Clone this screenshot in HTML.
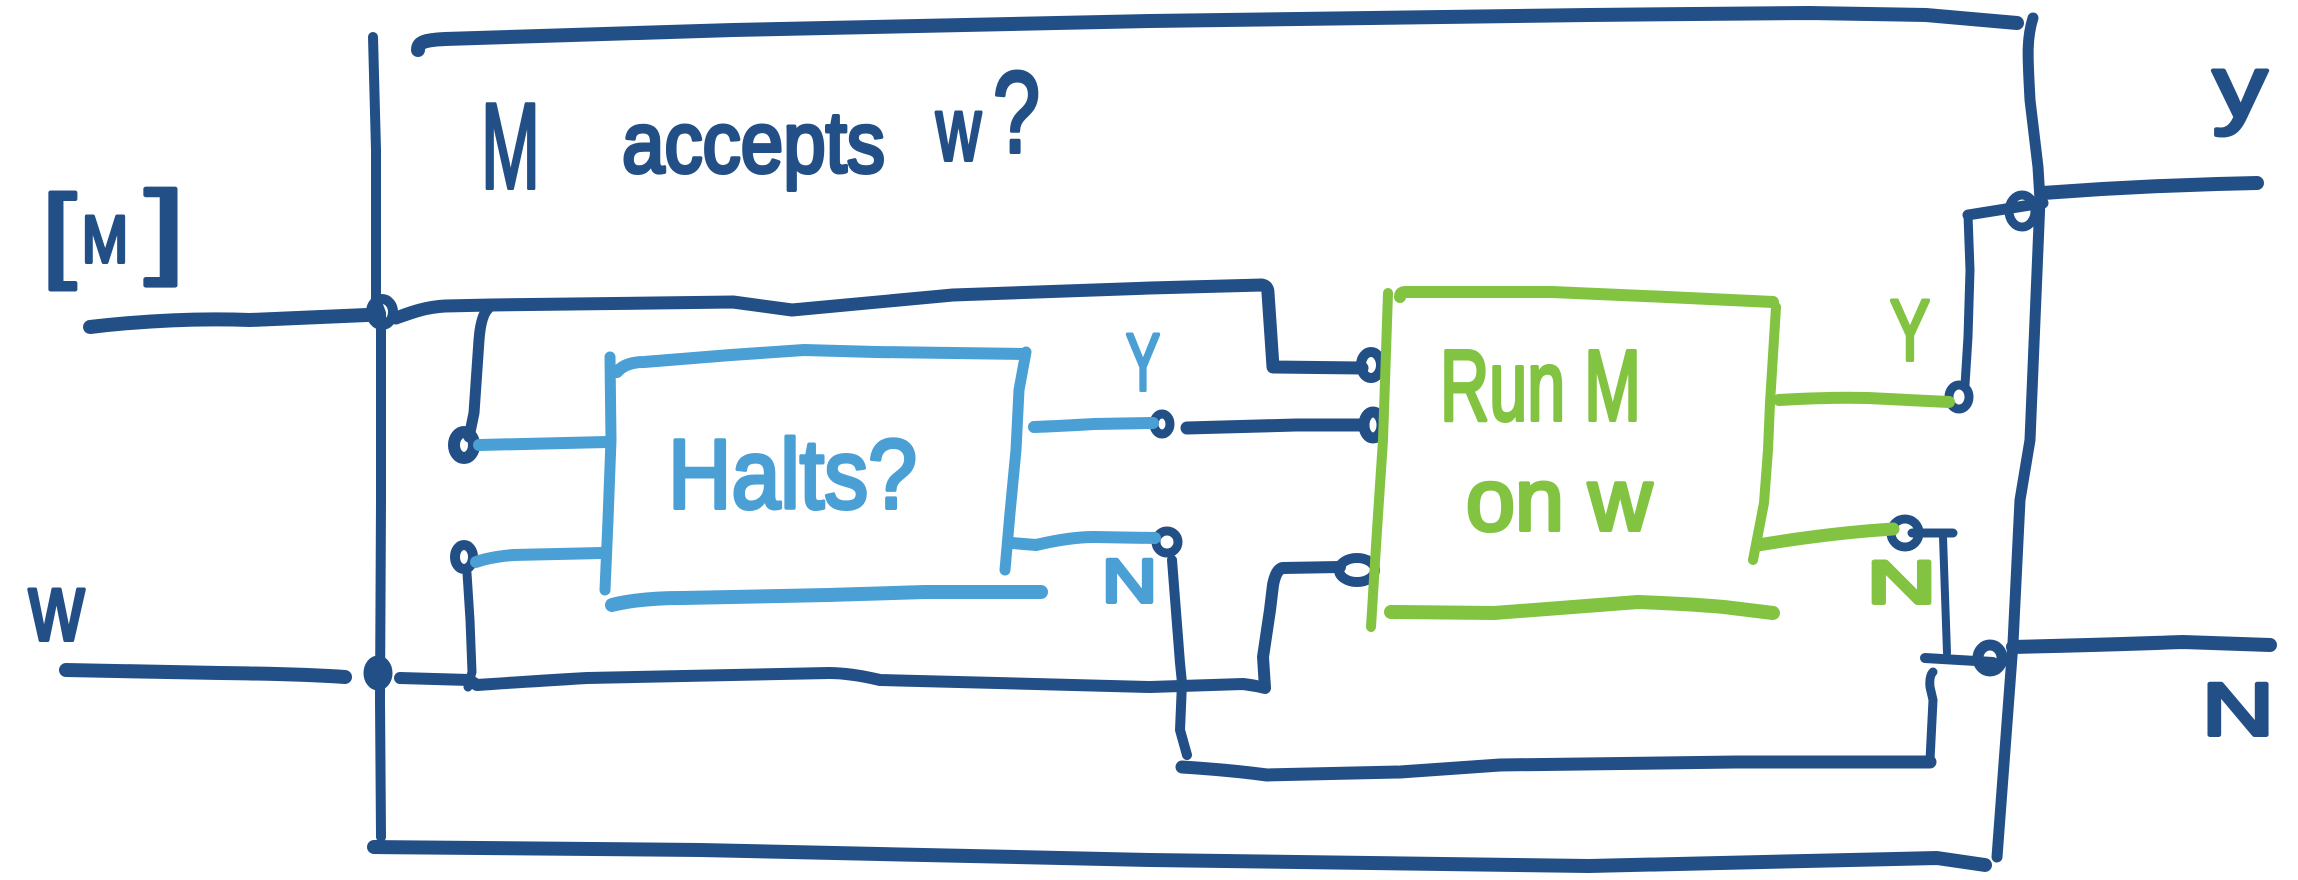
<!DOCTYPE html>
<html>
<head>
<meta charset="utf-8">
<style>
html,body{margin:0;padding:0;background:#fff;}
svg{display:block;}
text{font-family:"Liberation Sans","DejaVu Sans",sans-serif;}
</style>
</head>
<body>
<svg width="2298" height="880" viewBox="0 0 2298 880" xmlns="http://www.w3.org/2000/svg">
<rect width="2298" height="880" fill="#ffffff"/>
<g fill="none" stroke-linecap="round" stroke-linejoin="round">
  <!-- Outer box (dark blue) -->
  <g stroke="#234f87">
    <path d="M418,50 C418,42 425,40 445,39 L733,30 L1150,21 L1589,15 L1809,13 L1926,15 L2017,23" stroke-width="14"/>
    <path d="M2033,18 C2026,40 2028,60 2030,100 L2038,167 L2040,200 L2030,440 L2020,500 L2013,643 L1997,857" stroke-width="11"/>
    <path d="M374,847 L700,850 L1150,860 L1589,866 L1937,858 L1985,865" stroke-width="14"/>
    <path d="M373,37 L376,150 L376,300 L381,313 L381,500 L380,700 L381,837" stroke-width="10"/>

    <!-- [M] input -->
    <path d="M90,327 C150,320 200,318 250,320 L367,315" stroke-width="14"/>
    <ellipse cx="382" cy="312" rx="11" ry="13" stroke-width="10"/>
    <path d="M396,318 C410,313 425,307 445,306 L491,305 L733,302 L792,310 L953,295 L1150,288 L1262,285 Q1268,286 1268,293 L1271,337 L1273,367 L1362,368" stroke-width="13"/>
    <ellipse cx="1371" cy="365" rx="10" ry="13" stroke-width="10"/>

    <!-- branch to Halts upper input -->
    <path d="M491,306 Q481,312 479,340 L474,413 L469,437" stroke-width="11"/>
    <ellipse cx="464" cy="445" rx="10" ry="13" stroke-width="12"/>

    <!-- Halts lower input circle and vertical -->
    <ellipse cx="464" cy="557" rx="9" ry="12" stroke-width="10"/>
    <path d="M467,573 L470,620 L472,672 L468,687" stroke-width="9"/>

    <!-- w input -->
    <path d="M66,670 L220,673 Q300,674 345,677" stroke-width="14"/>
    <ellipse cx="378" cy="673" rx="12" ry="15" fill="#234f87" stroke-width="5"/>
    <path d="M400,678 L469,680 L477,685 Q520,682 587,678 L829,673 Q850,673 880,680 L1150,687 L1243,684 Q1258,686 1265,688 L1263,657 L1270,610 L1273,585 Q1276,569 1283,568 L1340,567" stroke-width="12"/>
    <ellipse cx="1357" cy="570" rx="18" ry="12" stroke-width="10"/>

    <!-- Halts outputs circles -->
    <ellipse cx="1162" cy="424" rx="8" ry="10" stroke-width="9"/>
    <ellipse cx="1167" cy="542" rx="11" ry="11" stroke-width="9"/>
    <path d="M1187,428 L1296,425 L1363,425" stroke-width="13"/>
    <ellipse cx="1373" cy="425" rx="9" ry="13" stroke-width="11"/>

    <!-- Halts N vertical and return line -->
    <path d="M1172,560 L1180,663 L1182,683 L1180,730 L1187,755" stroke-width="10"/>
    <path d="M1182,767 Q1230,770 1267,775 L1400,772 L1500,765 L1736,762 L1930,762" stroke-width="13"/>
    <path d="M1930,760 L1933,700 L1930,687 Q1929,676 1933,672" stroke-width="9"/>

    <!-- Run M Y output connection -->
    <ellipse cx="1959" cy="397" rx="10" ry="12" stroke-width="9"/>
    <path d="M1965,385 L1968,337 L1970,270 L1968,215" stroke-width="9"/>
    <path d="M1968,215 L2043,203" stroke-width="11"/>
    <ellipse cx="2022" cy="211" rx="13" ry="16" stroke-width="9"/>
    <path d="M2043,193 Q2150,185 2257,183" stroke-width="14"/>

    <!-- Run M N output connection -->
    <ellipse cx="1905" cy="533" rx="14" ry="14" stroke-width="9"/>
    <path d="M1912,533 L1953,533" stroke-width="9"/>
    <path d="M1943,537 L1947,653" stroke-width="8"/>
    <path d="M1925,658 L1993,662" stroke-width="10"/>
    <ellipse cx="1990" cy="658" rx="12" ry="13" stroke-width="11"/>
    <path d="M2013,647 Q2100,645 2183,642 L2270,645" stroke-width="14"/>
  </g>

  <!-- Halts box (light blue) -->
  <g stroke="#4a9fd4">
    <path d="M479,445 L607,442" stroke-width="12"/>
    <path d="M476,562 Q490,557 513,555 L602,553" stroke-width="12"/>
    <path d="M610,357 L611,440 L608,520 L605,590" stroke-width="11"/>
    <path d="M617,372 Q625,362 644,362 L731,355 L804,350 L876,352 L1024,354" stroke-width="12"/>
    <path d="M1026,352 L1019,390 L1016,450 L1010,513 L1005,570" stroke-width="11"/>
    <path d="M612,605 Q640,598 682,598 L828,595 L925,592 L1041,592" stroke-width="14"/>
    <path d="M1034,427 Q1060,426 1094,424 L1153,423" stroke-width="12"/>
    <path d="M1012,543 L1036,545 Q1070,537 1094,537 L1155,538" stroke-width="12"/>
  </g>

  <!-- Run M box (green) -->
  <g stroke="#82c341">
    <path d="M1388,293 L1383,440 L1377,530 L1371,627" stroke-width="10"/>
    <path d="M1400,297 Q1400,292 1405,292 L1552,292 L1667,297 L1773,302" stroke-width="12"/>
    <path d="M1776,307 L1770,403 L1768,450 L1764,503 L1753,560" stroke-width="10"/>
    <path d="M1391,612 L1494,613 Q1560,608 1638,602 Q1690,604 1724,607 L1773,613" stroke-width="14"/>
    <path d="M1779,400 Q1830,397 1868,398 L1949,402" stroke-width="12"/>
    <path d="M1758,545 Q1830,533 1893,529" stroke-width="13"/>
  </g>
</g>

<!-- Labels -->
<g fill="#234f87" stroke="#234f87" stroke-width="4" stroke-linejoin="round">
  <text x="481" y="188" font-size="122" textLength="59" lengthAdjust="spacingAndGlyphs">M</text>
  <text x="622" y="172" font-size="86" textLength="263" lengthAdjust="spacingAndGlyphs">accepts</text>
  <text x="936" y="160" font-size="90" textLength="45" lengthAdjust="spacingAndGlyphs">w</text>
  <text x="993" y="152" font-size="115" textLength="47" lengthAdjust="spacingAndGlyphs">?</text>

  <text x="42" y="268" font-size="104" textLength="34" lengthAdjust="spacingAndGlyphs">[</text>
  <text x="82" y="262" font-size="66" textLength="46" lengthAdjust="spacingAndGlyphs">M</text>
  <text x="145" y="264" font-size="104" textLength="40" lengthAdjust="spacingAndGlyphs">]</text>

  <text x="29" y="640" font-size="96" textLength="55" lengthAdjust="spacingAndGlyphs">w</text>

  <text x="2213" y="117" font-size="88" textLength="54" lengthAdjust="spacingAndGlyphs">y</text>
  <text x="2202" y="735" font-size="74" textLength="72" lengthAdjust="spacingAndGlyphs">N</text>
</g>

<g fill="#4a9fd4" stroke="#4a9fd4" stroke-width="4" stroke-linejoin="round">
  <text x="668" y="508" font-size="98" textLength="249" lengthAdjust="spacingAndGlyphs">Halts?</text>
  <text x="1126" y="390" font-size="81" textLength="34" lengthAdjust="spacingAndGlyphs">Y</text>
  <text x="1102" y="602" font-size="61" textLength="55" lengthAdjust="spacingAndGlyphs">N</text>
</g>

<g fill="#82c341" stroke="#82c341" stroke-width="4" stroke-linejoin="round">
  <text x="1440" y="420" font-size="100" textLength="201" lengthAdjust="spacingAndGlyphs">Run M</text>
  <text x="1466" y="530" font-size="88" textLength="186" lengthAdjust="spacingAndGlyphs">on w</text>
  <text x="1890" y="360" font-size="86" textLength="40" lengthAdjust="spacingAndGlyphs">Y</text>
  <text x="1867" y="603" font-size="60" textLength="69" lengthAdjust="spacingAndGlyphs">N</text>
</g>
</svg>
</body>
</html>
